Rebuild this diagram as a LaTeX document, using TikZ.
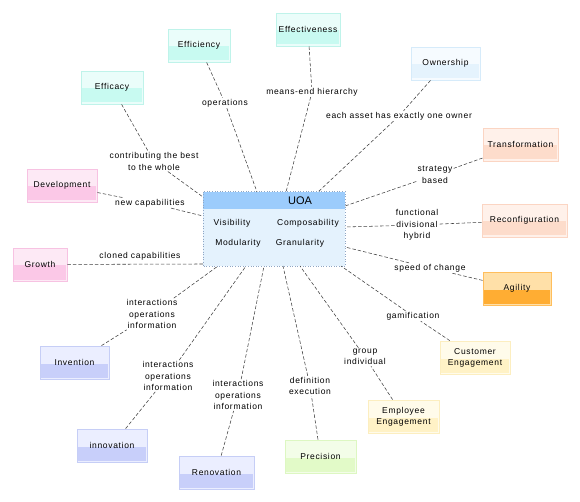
\documentclass[tikz,border=0pt]{standalone}
\usepackage{fontspec}
\setmainfont{Liberation Sans}
\newfontfamily\lblfont[LetterSpace=8]{Liberation Sans}
\definecolor{cyT}{HTML}{EAFDFA}\definecolor{cyB}{HTML}{C8FAF1}\definecolor{cyD}{HTML}{BFF3EA}
\definecolor{owT}{HTML}{F6FBFF}\definecolor{owB}{HTML}{E5F3FD}\definecolor{owD}{HTML}{D6EBFA}
\definecolor{orT}{HTML}{FFF1EA}\definecolor{orB}{HTML}{FDDCCB}\definecolor{orD}{HTML}{FBD5C3}
\definecolor{agT}{HTML}{FFE0A8}\definecolor{agB}{HTML}{FFAD33}\definecolor{agD}{HTML}{FFBE5C}
\definecolor{yeT}{HTML}{FFFBEA}\definecolor{yeB}{HTML}{FFF2C6}\definecolor{yeD}{HTML}{FCEEC0}
\definecolor{grT}{HTML}{F3FDE8}\definecolor{grB}{HTML}{E2FAC8}\definecolor{grD}{HTML}{DDF7C2}
\definecolor{piT}{HTML}{FDE9F5}\definecolor{piB}{HTML}{FBC8E7}\definecolor{piD}{HTML}{F7C2E2}
\definecolor{blT}{HTML}{EBEEFF}\definecolor{blB}{HTML}{C8CFFA}\definecolor{blD}{HTML}{C6CEF6}
\definecolor{uoaH}{HTML}{9CCCFC}\definecolor{uoaF}{HTML}{E4F2FD}\definecolor{uoaD}{HTML}{8FA6C4}
\definecolor{lineC}{HTML}{404040}
\tikzset{
  box/.style n args={4}{rectangle, draw=#3!100, fill=#1, line width=0.8pt,
    minimum width=#4, minimum height=33pt, inner sep=0pt, align=center,
    font=\lblfont\fontsize{8.5}{11}\selectfont,
    path picture={\fill[#2] ([yshift=-1pt]path picture bounding box.west) rectangle ([xshift=-1.5pt,yshift=1.5pt]path picture bounding box.south east);}},
  lbl/.style={fill=white, inner sep=1pt, align=center, font=\lblfont\fontsize{8.5}{11.5}\selectfont},
  lblc/.style={inner sep=1pt, align=center, font=\lblfont\fontsize{8.5}{11.5}\selectfont},
  conn/.style={draw=lineC, line width=0.55pt, dash pattern=on 3.5pt off 2pt},
}
\begin{document}
\begin{tikzpicture}[x=1pt,y=-1pt]
\useasboundingbox (0,0) rectangle (580,502);
% UOA node
\node[rectangle, fill=uoaF, minimum width=142pt, minimum height=74pt, inner sep=0pt] (uoa) at (274,229) {};
\fill[uoaH] (uoa.north west) rectangle ([yshift=-17pt]uoa.north east);
\draw[uoaD, dotted, line width=0.6pt] (uoa.north west) rectangle (uoa.south east);
\node[font=\fontsize{11}{13}\selectfont] (uoat) at (300,200.5) {UOA};
\node[lblc] (vis) at (232,223) {Visibility};
\node[lblc] (com) at (308,223) {Composability};
\node[lblc] (mod) at (238,243) {Modularity};
\node[lblc] (gra) at (300,243) {Granularity};
% coordinates on UOA border
\coordinate (a1) at (257,192);
\coordinate (a2) at (286,192);
\coordinate (a3) at (318,192);
\coordinate (a4) at (203,197);
\coordinate (a5) at (203,216);
\coordinate (a6) at (203,264);
\coordinate (a7) at (345,206);
\coordinate (a8) at (345,227);
\coordinate (a9) at (345,247);
\coordinate (a10) at (341,266);
\coordinate (a11) at (218,266);
\coordinate (a12) at (246,266);
\coordinate (a13) at (264,266);
\coordinate (a14) at (283,266);
\coordinate (a15) at (300,266);
% boxes
\node[box={cyT}{cyB}{cyD}{62pt}] (effi) at (199,45.5) {Efficiency};
\node[box={cyT}{cyB}{cyD}{64pt}] (effe) at (308,29.5) {Effectiveness};
\node[box={owT}{owB}{owD}{69pt}] (own) at (445.5,63.5) {Ownership};
\node[box={cyT}{cyB}{cyD}{62pt}] (effa) at (112,87.5) {Efficacy};
\node[box={orT}{orB}{orD}{75pt}] (trans) at (520.5,144.5) {Transformation};
\node[box={piT}{piB}{piD}{70pt}] (dev) at (62,185.5) {Development};
\node[box={orT}{orB}{orD}{85pt}] (reco) at (524.5,220.5) {Reconfiguration};
\node[box={piT}{piB}{piD}{54pt}] (grow) at (40,264.5) {Growth};
\node[box={agT}{agB}{agD}{68pt}] (agil) at (517,288.5) {Agility};
\node[box={yeT}{yeB}{yeD}{70pt}] (cust) at (475,357.5) {Customer\\Engagement};
\node[box={blT}{blB}{blD}{69pt}] (inve) at (74.5,362.5) {Invention};
\node[box={yeT}{yeB}{yeD}{71pt}] (empl) at (403.5,416.5) {Employee\\Engagement};
\node[box={blT}{blB}{blD}{70pt}] (inno) at (112,445.5) {innovation};
\node[box={grT}{grB}{grD}{71pt}] (prec) at (320.5,456.5) {Precision};
\node[box={blT}{blB}{blD}{75pt}] (reno) at (216.5,472.5) {Renovation};
% labels
\node[lbl] (l1) at (225,103) {operations};
\node[lbl] (l2) at (312,92) {means-end hierarchy};
\node[lbl] (l3) at (399,116) {each asset has exactly one owner};
\node[lbl] (l4) at (154,161.5) {contributing the best\\to the whole};
\node[lbl] (l5) at (150,203) {new capabilities};
\node[lblc] (l6) at (140,256) {cloned capabilities};
\node[lbl] (l7) at (435,175) {strategy\\based};
\node[lbl] (l8) at (417,225) {functional\\divisional\\hybrid};
\node[lbl] (l9) at (430,268) {speed of change};
\node[lbl] (l10) at (413,316) {gamification};
\node[lbl] (l11) at (152,314) {interactions\\operations\\information};
\node[lbl] (l12) at (168,376) {interactions\\operations\\information};
\node[lbl] (l13) at (238,395) {interactions\\operations\\information};
\node[lbl] (l14) at (310,386) {definition\\execution};
\node[lbl] (l15) at (365,357) {group\\individual};
% connectors
\draw[conn] (effi) -- (l1) -- (a1);
\draw[conn] (effe) -- (l2) -- (a2);
\draw[conn] (own) -- (l3) -- (a3);
\draw[conn] (effa) -- (l4) -- (a4);
\draw[conn] (dev) -- (l5) -- (a5);
\draw[conn] (grow) -- (a6);
\draw[conn] (trans) -- (l7) -- (a7);
\draw[conn] (reco) -- (l8) -- (a8);
\draw[conn] (agil) -- (l9) -- (a9);
\draw[conn] (cust) -- (l10) -- (a10);
\draw[conn] (inve) -- (l11) -- (a11);
\draw[conn] (inno) -- (l12) -- (a12);
\draw[conn] (reno) -- (l13) -- (a13);
\draw[conn] (prec) -- (l14) -- (a14);
\draw[conn] (empl) -- (l15) -- (a15);
\end{tikzpicture}
\end{document}
